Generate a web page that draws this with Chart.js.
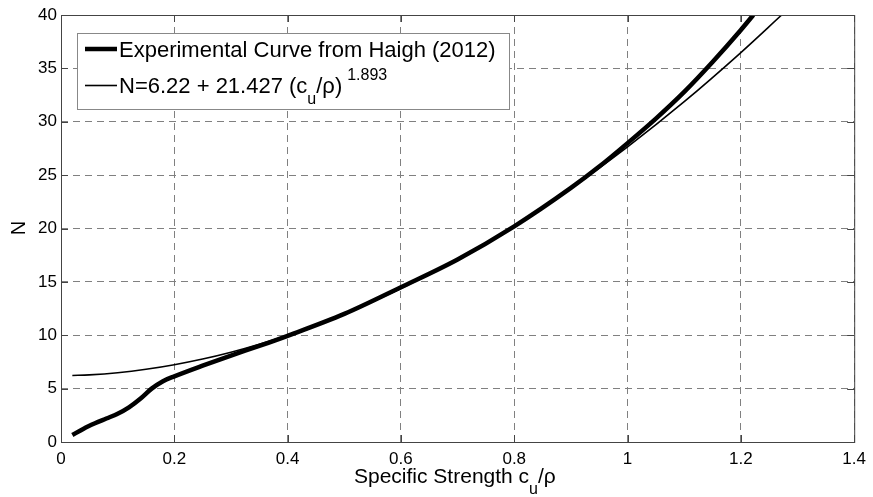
<!DOCTYPE html>
<html>
<head>
<meta charset="utf-8">
<script src="https://cdn.jsdelivr.net/npm/chart.js@4"></script>
<style>
  html, body { margin: 0; padding: 0; background: #fff; }
  canvas { display: block; }
</style>
</head>
<body>
<canvas id="chart" width="873" height="497"></canvas>
<script>
// DATA
const expX = [0.02,0.04,0.06,0.08,0.1,0.12,0.14,0.16,0.18,0.2,0.25,0.3,0.35,0.4,0.5,0.6,0.7,0.8,0.9,0.95,1.0,1.05,1.1,1.15,1.2,1.222];
const expN = [0.65,1.25,1.75,2.2,2.65,3.25,4.05,5.0,5.7,6.15,7.15,8.1,9.0,9.95,12.0,14.5,17.1,20.2,23.8,25.8,28.0,30.3,32.8,35.6,38.6,40.0];

const fitX = [0.02,0.05,0.1,0.15,0.2,0.25,0.3,0.35,0.4,0.5,0.6,0.7,0.8,0.9,1.0,1.1,1.2,1.272];
const fitN = [6.23,6.29,6.49,6.81,7.24,7.77,8.41,9.16,10.0,11.99,14.37,17.13,20.27,23.77,27.65,31.88,36.48,40.0];

const xTickLabels = ["0","0.2","0.4","0.6","0.8","1","1.2","1.4"];
const yTickLabels = ["0","5","10","15","20","25","30","35","40"];

const FONT = "'Liberation Sans', Arial, sans-serif";

// box + inward tick marks like matlab
const boxPlugin = {
  id: "box",
  afterDraw(chart) {
    const {ctx, chartArea: a, scales} = chart;
    ctx.save();
    ctx.strokeStyle = "#444";
    ctx.lineWidth = 1;
    ctx.strokeRect(a.left + 0.5, a.top + 0.5, a.right - a.left, a.bottom - a.top);
    ctx.beginPath();
    scales.x.ticks.forEach(t => {
      let px = Math.round(scales.x.getPixelForValue(t.value)) + 0.5;
      ctx.moveTo(px, a.bottom); ctx.lineTo(px, a.bottom - 7);
      ctx.moveTo(px, a.top); ctx.lineTo(px, a.top + 7);
    });
    scales.y.ticks.forEach(t => {
      let py = Math.round(scales.y.getPixelForValue(t.value)) + 0.5;
      ctx.moveTo(a.left, py); ctx.lineTo(a.left + 7, py);
      ctx.moveTo(a.right, py); ctx.lineTo(a.right - 7, py);
    });
    ctx.stroke();
    ctx.restore();
  }
};

// legend + axis titles (need sub/superscripts)
const textPlugin = {
  id: "texts",
  afterDraw(chart) {
    const ctx = chart.ctx;
    ctx.save();

    // legend box
    ctx.fillStyle = "#fff";
    ctx.fillRect(77, 33, 432, 76);
    ctx.strokeStyle = "#888";
    ctx.lineWidth = 1;
    ctx.strokeRect(77.5, 33.5, 432, 76);

    ctx.strokeStyle = "#000";
    ctx.lineWidth = 4.5;
    ctx.beginPath(); ctx.moveTo(85, 49); ctx.lineTo(117, 49); ctx.stroke();
    ctx.lineWidth = 1.6;
    ctx.beginPath(); ctx.moveTo(85, 85.5); ctx.lineTo(117, 85.5); ctx.stroke();

    ctx.fillStyle = "#000";
    ctx.textBaseline = "alphabetic";
    ctx.textAlign = "left";
    ctx.font = "22px " + FONT;
    ctx.fillText("Experimental Curve from Haigh (2012)", 119, 57);

    let x = 119;
    let s = "N=6.22 + 21.427 (c";
    ctx.fillText(s, x, 93);
    x += ctx.measureText(s).width;
    ctx.font = "16px " + FONT;
    ctx.fillText("u", x, 104);
    x += ctx.measureText("u").width;
    ctx.font = "22px " + FONT;
    ctx.fillText("/\u03C1)", x, 93);
    x += ctx.measureText("/\u03C1)").width + 5;
    ctx.font = "16px " + FONT;
    ctx.fillText("1.893", x, 80);

    // x title
    x = 354;
    ctx.font = "21px " + FONT;
    s = "Specific Strength c";
    ctx.fillText(s, x, 483);
    x += ctx.measureText(s).width;
    ctx.font = "16px " + FONT;
    ctx.fillText("u", x, 494);
    x += ctx.measureText("u").width;
    ctx.font = "21px " + FONT;
    ctx.fillText("/\u03C1", x, 483);

    // y title
    ctx.translate(19, 228);
    ctx.rotate(-Math.PI / 2);
    ctx.textAlign = "center";
    ctx.textBaseline = "middle";
    ctx.font = "20px " + FONT;
    ctx.fillText("N", 0, 0);

    ctx.restore();
  }
};

const ctx = document.getElementById("chart");

new Chart(ctx, {
  type: "line",
  data: {
    datasets: [
      {
        label: "Experimental Curve from Haigh (2012)",
        data: expX.map((v, i) => ({x: v, y: expN[i]})),
        borderColor: "#000",
        borderWidth: 4.5,
        pointRadius: 0,
        cubicInterpolationMode: "monotone",
        fill: false
      },
      {
        label: "N=6.22 + 21.427 (cu/ρ)^1.893",
        data: fitX.map((v, i) => ({x: v, y: fitN[i]})),
        borderColor: "#000",
        borderWidth: 1.6,
        pointRadius: 0,
        cubicInterpolationMode: "monotone",
        fill: false
      }
    ]
  },
  options: {
    responsive: false,
    animation: false,
    layout: { padding: { top: 15, right: 16, left: 0, bottom: 0 } },
    plugins: { legend: { display: false }, tooltip: { enabled: false } },
    scales: {
      x: {
        type: "linear",
        min: 0,
        max: 1.4,
        afterFit: s => { s.height = 55; },
        ticks: {
          stepSize: 0.2,
          autoSkip: false,
          maxRotation: 0,
          padding: 7,
          color: "#000",
          font: { family: FONT, size: 17 },
          callback: (v, i) => xTickLabels[i]
        },
        grid: { color: "#808080", lineWidth: 1, drawTicks: false },
        border: { display: false, dash: [7, 5] }
      },
      y: {
        min: 0,
        max: 40,
        afterFit: s => { s.width = 61; },
        ticks: {
          stepSize: 5,
          autoSkip: false,
          padding: 4,
          color: "#000",
          font: { family: FONT, size: 17 },
          callback: (v, i) => yTickLabels[i]
        },
        grid: { color: "#808080", lineWidth: 1, drawTicks: false },
        border: { display: false, dash: [7, 5] }
      }
    }
  },
  plugins: [boxPlugin, textPlugin]
});
</script>
</body>
</html>
